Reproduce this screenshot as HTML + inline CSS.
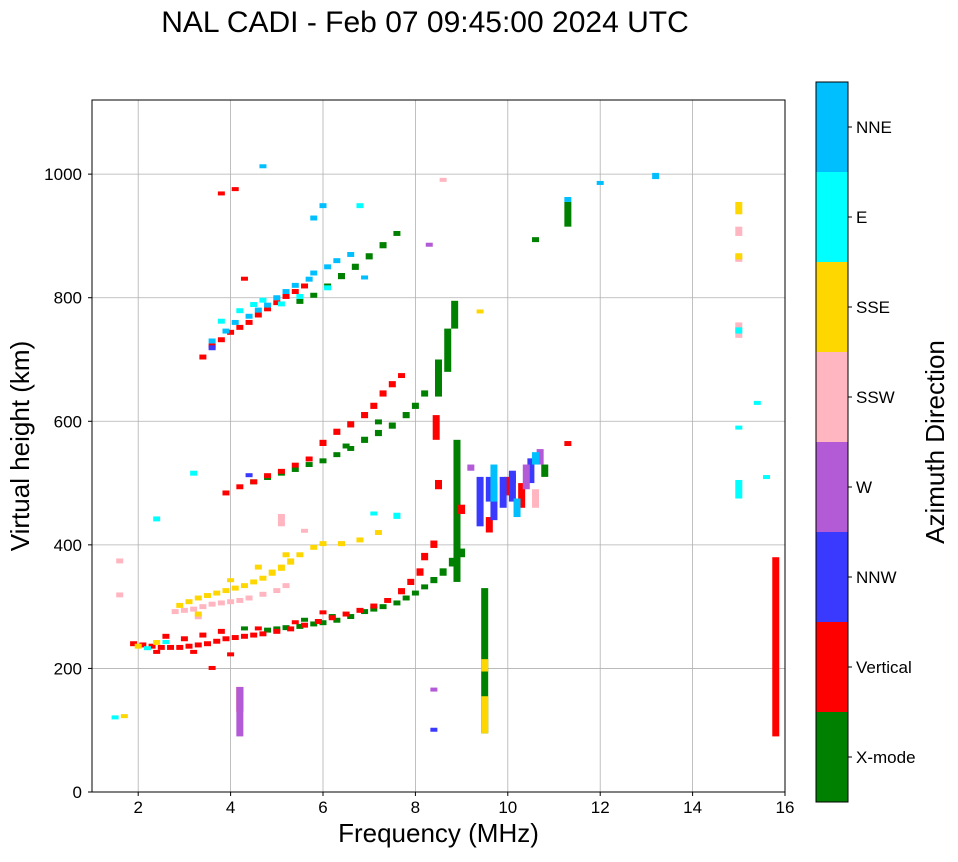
<!DOCTYPE html>
<html><head><meta charset="utf-8"><style>
body{margin:0;background:#fff;font-family:"Liberation Sans",sans-serif}
svg text{font-family:"Liberation Sans",sans-serif}
</style></head><body>
<svg id="chart" width="958" height="857" xmlns="http://www.w3.org/2000/svg">
<defs><clipPath id="pc"><rect x="92" y="100" width="693" height="692"/></clipPath></defs>
<text x="425" y="32" font-size="30" text-anchor="middle">NAL CADI - Feb 07 09:45:00 2024 UTC</text>
<g id="grid"></g><g id="marks" clip-path="url(#pc)"></g><g id="axes"></g><g id="cbar"></g>
</svg>
<script>
const xTicks=[2,4,6,8,10,12,14,16];
const yTicks=[0,200,400,600,800,1000];
const cbLabels=["X-mode","Vertical","NNW","W","SSW","SSE","E","NNE"];
const cbColors=["#008000","#ff0000","#3a3aff","#b35ad6","#ffb6c1","#ffd700","#00ffff","#00bfff"];
// points: [freqMHz, bottomHeightKm, spanKm]
const xmode=[[4.8,258,8],[5,260,8],[5.2,262,8],[5.5,264,8],[5.8,268,8],[6,270,8],[6.3,274,8],[6.6,280,8],[6.9,288,8],[7.1,292,8],[7.3,296,8],[7.6,302,8],[7.8,310,8],[8,318,8],[8.2,328,8],[8.4,338,10],[8.6,350,12],[8.8,365,14],[9,380,14],[8.9,340,230],[8.5,640,60],[8.7,680,70],[8.85,750,45],[9.5,95,235],
[4.5,498,8],[4.8,505,8],[5.1,512,8],[5.4,518,8],[5.7,526,8],[6,532,8],[6.3,542,8],[6.6,552,8],[6.9,565,10],[7.2,576,10],[7.5,588,10],[7.8,605,10],[8,620,10],[8.2,640,10],
[5.5,790,8],[5.8,800,8],[6.1,815,8],[6.4,830,10],[6.7,845,10],[7,862,10],[7.3,880,10],[7.6,900,8],[10.6,890,8],[11.3,915,40],[10.8,510,20],[10.1,500,15],[5.6,276,6],[6.2,282,6],[4.3,262,6],[7.2,595,8],[6.5,556,8]];
const vertical=[[1.9,236,8],[2.1,234,8],[2.3,232,8],[2.5,230,8],[2.7,230,8],[2.9,230,8],[3.1,232,8],[3.3,234,8],[3.5,236,8],[3.7,240,8],[3.9,244,8],[4.1,246,8],[4.3,248,8],[4.5,250,8],[4.7,252,8],[5,256,8],[5.3,260,8],[5.6,266,8],[5.9,272,8],[6.2,278,8],[6.5,284,8],[6.8,290,8],[7.1,297,8],[7.4,306,8],[7.7,320,10],[7.9,335,10],[8.1,350,12],[8.2,375,12],[8.4,395,12],
[2.6,248,8],[3.0,244,8],[3.4,250,8],[3.8,256,8],[2.4,224,6],[3.2,224,6],[4.0,220,6],[4.6,262,6],[5.4,272,6],[6.0,288,6],[3.6,198,6],
[3.9,480,8],[4.2,490,8],[4.5,498,8],[4.8,508,8],[5.1,515,8],[5.4,525,8],[5.7,535,8],[6,560,10],[6.3,578,10],[6.6,590,10],[6.9,605,10],[7.1,620,10],[7.3,640,10],[7.5,655,10],[7.7,670,8],[8.5,490,15],[8.45,570,40],
[3.4,700,8],[3.6,718,8],[3.8,728,8],[4,740,8],[4.2,748,8],[4.4,756,8],[4.6,768,8],[4.8,778,8],[5,788,8],[5.2,798,8],[5.4,806,8],[5.6,815,8],[4.2,130,40],[9,450,15],[9.6,420,25],[10,480,30],[10.3,460,40],[15.8,90,290],[3.8,968,4],[4.1,975,4],[4.3,830,4],[11.3,560,8]];
const nnw=[[9.4,430,80],[9.7,440,60],[9.9,460,50],[10.1,470,50],[10.5,500,40],[4.4,510,6],[8.4,98,6],[9.6,470,40],[3.6,715,8]];
const west=[[4.2,90,80],[10.4,490,40],[10.7,530,25],[9.2,520,10],[8.3,885,4],[8.4,165,4]];
const ssw=[[2.8,288,8],[3.0,290,8],[3.2,292,8],[3.4,296,8],[3.6,300,8],[3.8,302,8],[4,304,8],[4.2,306,8],[4.4,310,8],[4.7,316,8],[5,322,8],[5.2,330,8],[5.1,430,20],[6.4,398,8],[15,735,25],[15,900,15],[15,858,10],[10.6,460,30],[8.6,988,6],[1.6,315,8],[1.6,370,8],[3.3,280,6],[5.6,420,6]];
const sse=[[2.9,298,8],[3.1,304,8],[3.3,310,8],[3.5,314,8],[3.7,318,8],[3.9,322,8],[4.1,326,8],[4.3,330,8],[4.5,336,8],[4.7,342,8],[4.9,350,10],[5.1,358,10],[5.3,368,10],[5.5,380,8],[5.8,392,8],[6,398,8],[6.4,398,8],[6.8,404,8],[7.2,416,8],[9.5,95,60],[9.5,195,20],[15,935,20],[15,862,10],[2.4,238,8],[2.0,232,8],[3.3,284,8],[4.0,340,6],[4.6,360,8],[5.2,380,8],[1.7,120,6],[9.4,775,6]];
const east=[[3.8,758,8],[4.2,775,8],[4.5,785,8],[4.7,792,8],[5.1,786,8],[5.5,798,8],[6.1,812,8],[3.2,512,8],[6.8,945,8],[7.6,442,10],[15,475,30],[15,742,10],[2.4,438,8],[1.5,118,6],[15.4,630,3],[15,590,3],[15.6,510,3],[2.2,230,6],[2.6,240,6],[7.1,448,6]];
const nne=[[3.6,726,8],[3.9,742,8],[4.1,756,8],[4.4,766,8],[4.6,776,8],[4.8,784,8],[5,796,8],[5.2,806,8],[5.4,816,8],[5.7,826,8],[5.8,836,8],[6.1,846,8],[6.3,856,8],[6.6,866,8],[5.8,925,8],[6,945,8],[9.7,470,60],[10.2,445,30],[10.6,530,20],[11.3,955,8],[13.2,992,10],[4.7,1012,4],[12,985,4],[6.9,830,6]];
const seriesList=[xmode,vertical,nnw,west,ssw,sse,east,nne];
const NS="http://www.w3.org/2000/svg";
const L=92,R=785,T=100,B=792;
const xs=f=>L+(f-1)/15*(R-L);
const ys=h=>B-h*(B-T)/1120;
function mk(tag,attrs,parent){const e=document.createElementNS(NS,tag);for(const k in attrs)e.setAttribute(k,attrs[k]);parent.appendChild(e);return e;}
const grid=document.getElementById('grid'),axes=document.getElementById('axes'),marks=document.getElementById('marks'),cb=document.getElementById('cbar');
xTicks.forEach(t=>{const l=mk('line',{x1:xs(t),x2:xs(t),y1:T,y2:B,stroke:'#b0b0b0','stroke-width':0.8},grid);

mk('line',{x1:xs(t),x2:xs(t),y1:B,y2:B+4,stroke:'#000'},axes);
const tx=mk('text',{x:xs(t),y:B+21,'font-size':17,'text-anchor':'middle'},axes);tx.textContent=t;
});
yTicks.forEach(t=>{const l=mk('line',{x1:L,x2:R,y1:ys(t),y2:ys(t),stroke:'#b0b0b0','stroke-width':0.8},grid);

mk('line',{x1:L-4,x2:L,y1:ys(t),y2:ys(t),stroke:'#000'},axes);
const tx=mk('text',{x:L-10,y:ys(t)+6,'font-size':17,'text-anchor':'end'},axes);tx.textContent=t;
});
const fr=mk('rect',{x:L,y:T,width:R-L,height:B-T,fill:'none',stroke:'#000'},axes);

const xt=mk('text',{x:(L+R)/2,y:842,'font-size':26,'text-anchor':'middle'},axes);xt.textContent='Frequency (MHz)';

const yt=mk('text',{x:0,y:0,'font-size':26,'text-anchor':'middle',transform:`translate(29,${(T+B)/2}) rotate(-90)`},axes);yt.textContent='Virtual height (km)';

seriesList.forEach((s,i)=>{s.forEach(p=>{const top=ys(p[1]+p[2]),bot=ys(p[1]);
const r=mk('rect',{x:xs(p[0])-3.5,y:top,width:7,height:Math.max(4,bot-top),fill:cbColors[i]},marks);

});});
const cT=82,cB=802,cL=816,cW=32,seg=(cB-cT)/8;
cbLabels.forEach((lab,i)=>{const y0=cB-(i+1)*seg;
const r=mk('rect',{x:cL,y:y0,width:cW,height:seg,fill:cbColors[i]},cb);

mk('line',{x1:cL+cW,x2:cL+cW+4,y1:y0+seg/2,y2:y0+seg/2,stroke:'#000'},cb);
const t=mk('text',{x:cL+cW+8,y:y0+seg/2+6,'font-size':17},cb);t.textContent=lab;
});
mk('rect',{x:cL,y:cT,width:cW,height:cB-cT,fill:'none',stroke:'#000'},cb);
const ct=mk('text',{x:0,y:0,'font-size':26,'text-anchor':'middle',transform:`translate(944,442) rotate(-90)`},cb);ct.textContent='Azimuth Direction';

</script>
</body></html>
